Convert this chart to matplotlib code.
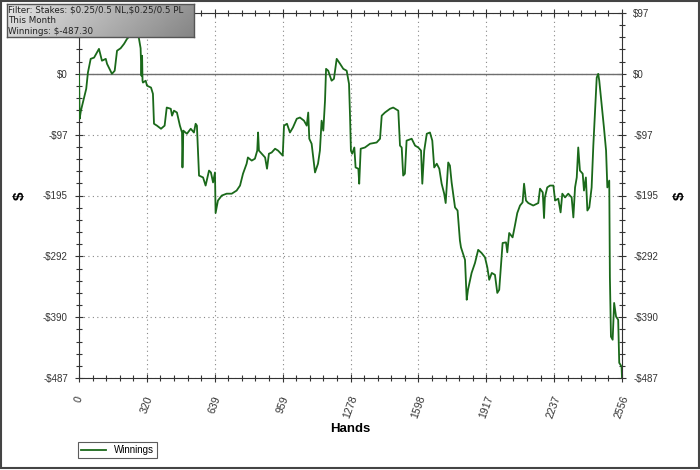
import matplotlib.pyplot as plt
import numpy as np
from matplotlib.patches import Rectangle
from matplotlib.ticker import AutoMinorLocator

hands = [0, 3, 9, 34, 42, 55, 71, 94, 108, 126, 132, 155, 168, 179, 196, 212, 226, 249, 268, 282,
         290, 294, 297, 299, 301, 314, 320, 339, 348, 353, 367, 386, 403, 413, 432, 438, 447, 461,
         475, 485, 487, 491, 508, 526, 541, 549, 555, 565, 584, 596, 612, 621, 631,
         640, 643, 654, 672, 695, 719, 742, 758, 772, 789, 795, 813, 828, 839, 843, 847, 860, 876,
         885, 894, 907, 923, 937, 959, 965, 979, 993, 1007, 1025, 1040, 1059, 1072, 1079, 1084,
         1095, 1111, 1125, 1134, 1142, 1150, 1158, 1163, 1173, 1189, 1200, 1213, 1229, 1244, 1260,
         1271, 1276, 1280, 1286, 1296, 1302, 1315, 1319, 1326, 1346, 1370, 1401, 1417, 1425, 1440,
         1464, 1479, 1503, 1511, 1519, 1526, 1534, 1542, 1566, 1582, 1597, 1610, 1616, 1625, 1637,
         1652, 1663, 1672, 1684, 1696, 1707, 1719, 1726, 1738, 1746, 1754, 1770, 1782, 1793, 1798,
         1817, 1825, 1831, 1848, 1864, 1879, 1895, 1911, 1922, 1931, 1943, 1958, 1969, 1978, 1985,
         1994, 2010, 2016, 2025, 2041, 2052, 2063, 2076, 2088, 2095, 2104, 2115, 2138, 2162, 2170,
         2183, 2189, 2193, 2204, 2217, 2233, 2241, 2256, 2267, 2275, 2288, 2303, 2319, 2327, 2335,
         2343, 2350, 2358, 2371, 2377, 2386, 2393, 2402, 2413, 2421, 2429, 2437, 2444, 2449, 2460,
         2471, 2481, 2487, 2496, 2499, 2504, 2512, 2519, 2528, 2538, 2543, 2554, 2556]
winnings = [0, -72, -59, -24, 2, 24, 26, 40, 21, 24, 16, 0, 5, 37, 41, 48, 56, 64, 69, 57,
            41, -3, 29, -11, -14, -11, -19, -22, -32, -80, -83, -88, -83, -54, -56, -67, -59, -62,
            -83, -94, -150, -91, -96, -88, -94, -80, -83, -163, -166, -179, -155, -158, -174,
            -158, -223, -203, -195, -192, -192, -187, -179, -160, -144, -134, -139, -136, -123, -94, -123, -128, -134,
            -152, -128, -126, -120, -123, -131, -83, -80, -94, -86, -72, -70, -75, -83, -62, -104,
            -112, -158, -144, -123, -75, -91, -43, 8, 5, -11, -8, 24, 16, 8, 5,
            -16, -70, -123, -128, -118, -150, -152, -176, -120, -118, -112, -110, -104, -67, -62,
            -56, -54, -59, -115, -118, -163, -160, -107, -104, -115, -118, -123, -176, -123, -96,
            -94, -107, -150, -144, -152, -176, -192, -207, -142, -147, -174, -214, -219, -267, -278,
            -298, -362, -346, -319, -303, -282, -287, -294, -310, -330, -319, -322, -351, -346, -314,
            -271, -270, -286, -255, -262, -243, -223, -211, -206, -176, -203, -207, -211, -207, -184,
            -190, -231, -198, -182, -179, -179, -203, -200, -222, -192, -198, -192, -198, -230, -182,
            -166, -118, -155, -160, -187, -166, -219, -214, -182, -115, -59, -6, 0, -11, -48,
            -86, -123, -182, -171, -326, -421, -426, -367, -389, -394, -463, -469, -487.3]

x_ticks = [0, 319.5, 639, 958.5, 1278, 1597.5, 1917, 2236.5, 2556]
x_labels = ["0", "320", "639", "959", "1278", "1598", "1917", "2237", "2556"]
y_ticks = [97.46, 0, -97.46, -194.92, -292.38, -389.84, -487.3]
y_labels = ["$97", "$0", "-$97", "-$195", "-$292", "-$390", "-$487"]

plt.rcParams['font.family'] = ['Liberation Sans', 'DejaVu Sans']
plt.rcParams['text.parse_math'] = False

fig = plt.figure(figsize=(7, 4.7), dpi=100)
ax = fig.add_axes([79 / 700, 1 - 378 / 470, 543 / 700, 365 / 470])

ax.plot(hands, winnings, color="#1a691a", linewidth=1.3, label="Winnings", zorder=3)
ax.axhline(0, color="#6e6e6e", linewidth=1.0, zorder=2)

ax.set_xlim(0, 2556)
ax.set_ylim(-487.3, 97.46)
ax.set_xticks(x_ticks)
ax.set_xticklabels(x_labels, rotation=70, fontsize=7.6, color="#333333")
ax.set_yticks(y_ticks)
ax.set_yticklabels(y_labels, fontsize=7, color="#333333")
ax.xaxis.set_minor_locator(AutoMinorLocator(5))
ax.yaxis.set_minor_locator(AutoMinorLocator(5))
ax.tick_params(which="both", direction="inout", top=True, right=True, labelright=True,
               color="#333333", width=0.8)
ax.tick_params(which="major", length=6, pad=5)
ax.tick_params(axis="x", which="major", pad=9)
ax.tick_params(which="minor", length=4)
ax.grid(True, which="major", linestyle=(0, (1, 3)), color="#888888", linewidth=0.8)
for s in ax.spines.values():
    s.set_color("#333333")
    s.set_linewidth(0.8)

ax.set_xlabel("Hands", fontsize=9.5, fontweight="bold", labelpad=2)
ax.set_ylabel("$", fontsize=11, fontweight="bold")
ax.yaxis.set_label_coords(-0.097, 0.5)
ax.text(1.107, 0.5, "$", transform=ax.transAxes, rotation=90, fontsize=11,
        fontweight="bold", ha="center", va="center")

leg = fig.legend(loc="lower left", bbox_to_anchor=(78 / 700, 12 / 470), fontsize=7,
                 frameon=True, fancybox=False, handlelength=2.6, borderpad=0.3,
                 handletextpad=0.8, borderaxespad=0)
leg.get_frame().set_edgecolor("#333333")
leg.get_frame().set_linewidth(0.8)

# filter info box with gradient
box = fig.add_axes([7 / 700, 1 - 37 / 470, 187 / 700, 33 / 470])
gx = np.linspace(0, 1, 200)
gy = np.linspace(0, 1, 40)
grad = 0.90 - 0.32 * gx[None, :] - 0.06 * gy[:, None]
box.imshow(grad, cmap="gray", vmin=0, vmax=1, aspect="auto", extent=[0, 1, 0, 1])
box.set_xticks([])
box.set_yticks([])
for s in box.spines.values():
    s.set_color("#555555")
    s.set_linewidth(1)
box_lines = ["Filter: Stakes: $0.25/0.5 NL,$0.25/0.5 PL", "This Month", "Winnings: $-487.30"]
for i, t in enumerate(box_lines):
    box.text(0.006, 0.745 - i * 0.327, t, transform=box.transAxes, fontsize=6.35,
             family="DejaVu Sans", color="#222222", va="baseline", ha="left")

fig.patches.append(Rectangle((0.001, 0.004), 0.997, 0.994, transform=fig.transFigure,
                             fill=False, edgecolor="#444444", linewidth=1.5))

fig.savefig("out.png", dpi=100)
